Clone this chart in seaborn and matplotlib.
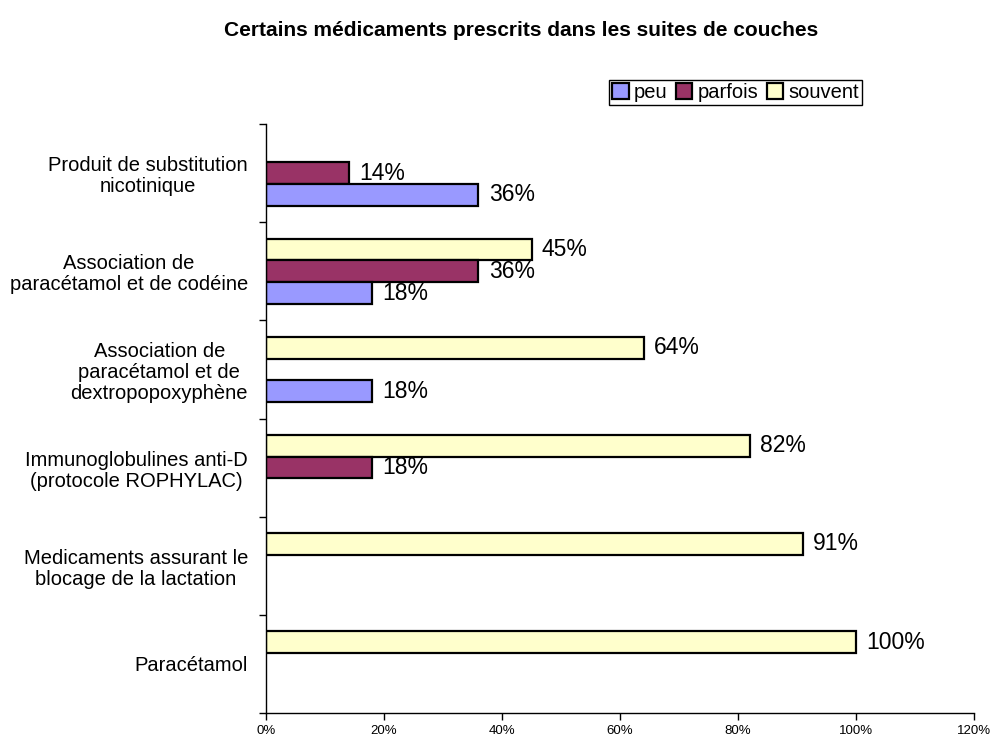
import matplotlib
matplotlib.use('Agg')
import pandas as pd
from matplotlib import pyplot as plt
from matplotlib.patches import Patch
from matplotlib.ticker import FuncFormatter, FixedLocator
import seaborn as sns

# Categories, listed from top to bottom as they appear on the chart
categories = [
    'Produit de substitution\nnicotinique',
    'Association de\nparacétamol et de codéine',
    'Association de\nparacétamol et de\ndextropopoxyphène',
    'Immunoglobulines anti-D\n(protocole ROPHYLAC)',
    'Medicaments assurant le\nblocage de la lactation',
    'Paracétamol',
]
# Percentages per frequency (None = no bar)
peu = [36, 18, 18, None, None, None]
parfois = [14, 36, None, 18, None, None]
souvent = [None, 45, 64, 82, 91, 100]

series_names = ['peu', 'parfois', 'souvent']
colors = {'peu': '#9999FF', 'parfois': '#993366', 'souvent': '#FFFFCC'}


def build_frame():
    rows = []
    for name, values in zip(series_names, [peu, parfois, souvent]):
        for cat, val in zip(categories, values):
            if val is not None:
                rows.append({'Médicament': cat, 'Fréquence': name, 'Pourcentage': val})
    return pd.DataFrame(rows)


def main():
    sns.set_style('white')
    plt.rcParams['font.family'] = ['Liberation Sans', 'DejaVu Sans']
    plt.rcParams['text.color'] = 'black'
    plt.rcParams['axes.labelcolor'] = 'black'
    plt.rcParams['xtick.color'] = 'black'
    plt.rcParams['ytick.color'] = 'black'

    df = build_frame()

    W, H = 991, 742
    fig = plt.figure(figsize=(W / 100, H / 100), dpi=100)
    ax = fig.add_axes([266 / W, 1 - 713 / H, (974 - 266) / W, (713 - 124) / H])

    sns.barplot(data=df, y='Médicament', x='Pourcentage', hue='Fréquence',
                order=categories, hue_order=['souvent', 'parfois', 'peu'],
                palette=colors, orient='h', width=0.667, saturation=1,
                edgecolor='black', linewidth=1.6, errorbar=None, ax=ax)

    for container in ax.containers:
        ax.bar_label(container, fmt='%.0f%%', padding=7.5, fontsize=16.5, color='black')

    ax.get_legend().remove()
    handles = [Patch(facecolor=colors[n], edgecolor='black', linewidth=1.6) for n in series_names]
    leg = fig.legend(handles, series_names, loc='upper right',
                     bbox_to_anchor=(862 / W, 1 - 80 / H), bbox_transform=fig.transFigure,
                     ncol=3, frameon=True, fancybox=False, edgecolor='black', framealpha=1,
                     borderpad=0.15, handlelength=0.8, handleheight=0.8,
                     handletextpad=0.25, columnspacing=0.45, fontsize=14.5, borderaxespad=0)
    leg.get_frame().set_linewidth(1.0)

    ax.set_xlim(0, 120)
    ax.set_ylim(len(categories) - 0.5, -0.5)
    ax.set_xticks(range(0, 121, 20))
    ax.xaxis.set_major_formatter(FuncFormatter(lambda v, p: f'{v:.0f}%'))
    ax.set_xlabel('')
    ax.set_ylabel('')

    for side in ['top', 'right']:
        ax.spines[side].set_visible(False)
    for side in ['left', 'bottom']:
        ax.spines[side].set_color('black')
        ax.spines[side].set_linewidth(1.0)

    ax.tick_params(axis='x', bottom=True, direction='out', length=5, width=1,
                   color='black', labelcolor='black', labelsize=9.5, pad=4)
    ax.tick_params(axis='y', which='major', left=True, length=0, pad=13,
                   labelsize=14.5, labelcolor='black')
    ax.yaxis.set_minor_locator(FixedLocator([i - 0.5 for i in range(len(categories) + 1)]))
    ax.tick_params(axis='y', which='minor', left=True, direction='out', length=5,
                   width=1, color='black')
    for t in ax.get_yticklabels():
        t.set_multialignment('center')
        t.set_linespacing(1.15)

    fig.text(521.5 / W, 1 - 31 / H, 'Certains médicaments prescrits dans les suites de couches',
             ha='center', va='center', fontsize=15, fontweight='bold', color='black')

    fig.savefig('out.png', dpi=100)
    plt.close(fig)


if __name__ == '__main__':
    main()
